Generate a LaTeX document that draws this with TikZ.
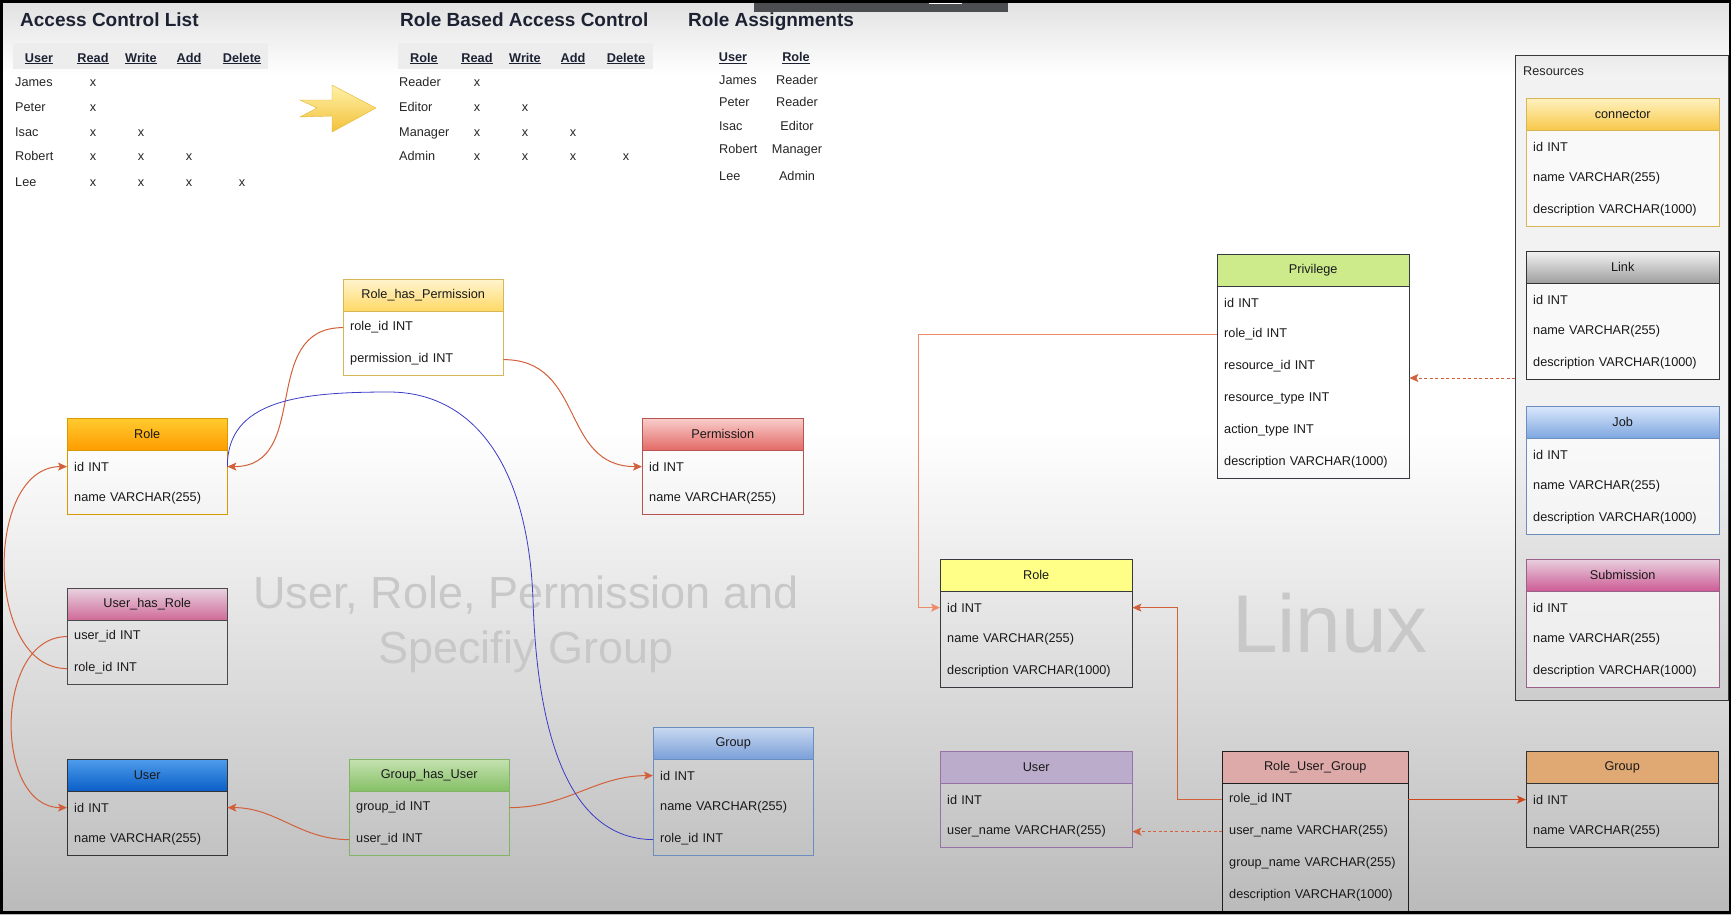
\documentclass[tikz,border=0pt]{standalone}
\usepackage{fontspec}
\setmainfont{Liberation Sans}
\usetikzlibrary{arrows.meta,positioning,calc}

\definecolor{fkline}{HTML}{D2603A}
\definecolor{fklight}{HTML}{EE8A6A}
\definecolor{fkdark}{HTML}{CC4A1E}
\definecolor{archline}{HTML}{3B3BC8}
\definecolor{inkdark}{HTML}{1D2233}
\definecolor{markgray}{HTML}{C8C8C8}
\definecolor{resline}{HTML}{3A3A3A}
\definecolor{tabgray}{HTML}{4B4D50}
\definecolor{arrowTop}{HTML}{FFF1A8}
\definecolor{arrowBot}{HTML}{F2C13A}
\definecolor{arrowLine}{HTML}{E5B52E}
\definecolor{rhpTop}{HTML}{FFF4CF}\definecolor{rhpBot}{HTML}{FFD966}\definecolor{rhpLine}{HTML}{D6B656}
\definecolor{lroleTop}{HTML}{FFCB2F}\definecolor{lroleBot}{HTML}{FF9C00}\definecolor{lroleLine}{HTML}{D79B00}
\definecolor{permTop}{HTML}{F8CECC}\definecolor{permBot}{HTML}{E36A66}\definecolor{permLine}{HTML}{B85450}
\definecolor{uhrTop}{HTML}{E8D2E0}\definecolor{uhrBot}{HTML}{CF6A97}\definecolor{uhrLine}{HTML}{4A4A4A}
\definecolor{luserTop}{HTML}{4E9CEB}\definecolor{luserBot}{HTML}{0A5FC8}\definecolor{luserLine}{HTML}{333333}
\definecolor{ghuTop}{HTML}{C4E2B0}\definecolor{ghuBot}{HTML}{86BF66}\definecolor{ghuLine}{HTML}{82B366}
\definecolor{lgroupTop}{HTML}{C9D9F1}\definecolor{lgroupBot}{HTML}{7A9FD8}\definecolor{lgroupLine}{HTML}{6C8EBF}
\definecolor{privFill}{HTML}{CDEB8B}\definecolor{privLine}{HTML}{36393D}
\definecolor{rroleFill}{HTML}{FFFF88}\definecolor{rroleLine}{HTML}{36393D}
\definecolor{ruserFill}{HTML}{BCACCB}\definecolor{ruserLine}{HTML}{9673A6}
\definecolor{rugFill}{HTML}{DEA9A9}\definecolor{rugLine}{HTML}{1F1F1F}
\definecolor{rgroupFill}{HTML}{E0A872}\definecolor{rgroupLine}{HTML}{333333}
\definecolor{connTop}{HTML}{FFF2C0}\definecolor{connBot}{HTML}{F7C84A}\definecolor{connLine}{HTML}{D6B656}
\definecolor{linkTop}{HTML}{F2F2F2}\definecolor{linkBot}{HTML}{9E9E9E}\definecolor{linkLine}{HTML}{333333}
\definecolor{jobTop}{HTML}{DAE8FC}\definecolor{jobBot}{HTML}{7EA6E0}\definecolor{jobLine}{HTML}{6C8EBF}
\definecolor{submTop}{HTML}{E8D0DE}\definecolor{submBot}{HTML}{CD5B95}\definecolor{submLine}{HTML}{996185}

% table: header node #2, rows #2-1, #2-2, ...
\newcommand{\dbtable}[8][]{%
  \node[tabhead,#5,minimum width=#4,anchor=north west] (#2) at #3 {#7};
  \pgfmathsetmacro\rowtw{#4-14}
  \foreach \txt [count=\i] in {#8}{%
    \node[tabrow,#1,text width=\rowtw pt,anchor=north west] (#2-\i)
      at ($(#2.south west)+(0,{(\i-1)*32})$) {\txt};
    \xdef\lastrow{\i}}
  \draw[draw=#6,line width=1] (#2.north west) rectangle (#2-\lastrow.south east);
  \draw[draw=#6,line width=1] (#2.south west) -- (#2.south east);
}

\begin{document}
\begin{tikzpicture}[x=1pt,y=-1pt,
    title/.style={font=\fontsize{19}{22}\selectfont\bfseries,text=inkdark,anchor=base west,inner sep=0},
    colhead/.style={font=\fontsize{12.7}{15}\selectfont\bfseries,text=inkdark,anchor=base,inner sep=0},
    cell/.style={font=\fontsize{12.7}{15}\selectfont,text=black!85,anchor=base,inner sep=0},
    tabhead/.style={font=\fontsize{12.7}{15}\selectfont,text=black!90,minimum height=32,inner sep=0},
    tabrow/.style={font=\fontsize{12.7}{15}\selectfont,text=black!90,minimum height=32,
      inner ysep=0,inner xsep=7,align=left},
    fk/.style={color=fkline,line width=1,-{Stealth[length=9pt,width=8pt,inset=2pt]}},
    watermark/.style={font=\fontsize{45}{50}\selectfont,text=markgray,anchor=base,inner sep=0}]

  \useasboundingbox (0,0) rectangle (1731,914);
  \shade[top color=black!12,bottom color=white] (0,0) rectangle (1731,75);
  \fill[white] (0,75) rectangle (1731,430);
  \shade[top color=white,bottom color=black!27] (0,430) rectangle (1731,914);

  % access control list
  \node[title] (acl-title) at (20,26) {Access Control List};
  \fill[black!7] (13,43) rectangle (268,69);
  \foreach \hd/\hx [count=\i] in {User/39,Read/93,Write/141,Add/189,Delete/242}
    \node[colhead] (acl-h\i) at (\hx,62) {\underline{\hd}};
  \foreach \nm/\ny/\xs [count=\i] in {James/86.5/{93},Peter/111.8/{93},Isac/136.5/{93,141},
      Robert/160.8/{93,141,189},Lee/186.5/{93,141,189,242}}{
    \node[cell,anchor=base west] (acl-\i) at (15,\ny) {\nm};
    \foreach \cx [count=\j] in \xs
      \node[cell] (acl-\i-\j) at (\cx,\ny) {x};
  }

  \draw[arrowLine,top color=arrowTop,bottom color=arrowBot]
    (300,100) -- (332,100) -- (332,85) -- (376,108) -- (332,132) -- (332,116)
    -- (300,117) -- (317,108) -- cycle;

  % role based access control
  \node[title] (rbac-title) at (400,26) {Role Based Access Control};
  \fill[black!7] (398,43) rectangle (653,69);
  \foreach \hd/\hx [count=\i] in {Role/424,Read/477,Write/525,Add/573,Delete/626}
    \node[colhead] (rbac-h\i) at (\hx,62) {\underline{\hd}};
  \foreach \nm/\ny/\xs [count=\i] in {Reader/86.5/{477},Editor/111.8/{477,525},
      Manager/136.5/{477,525,573},Admin/160.8/{477,525,573,626}}{
    \node[cell,anchor=base west] (rbac-\i) at (399,\ny) {\nm};
    \foreach \cx [count=\j] in \xs
      \node[cell] (rbac-\i-\j) at (\cx,\ny) {x};
  }

  % role assignments
  \node[title] (ra-title) at (688,26) {Role Assignments};
  \node[colhead] (ra-h1) at (733,61.5) {\underline{User}};
  \node[colhead] (ra-h2) at (796,61.5) {\underline{Role}};
  \foreach \nm/\rl/\ny [count=\i] in {James/Reader/84.5,Peter/Reader/106.5,Isac/Editor/130.2,
      Robert/Manager/153.5,Lee/Admin/180.5}{
    \node[cell,anchor=base west] (ra-\i) at (719,\ny) {\nm};
    \node[cell] (ra-\i-r) at (797,\ny) {\rl};
  }

  % left schema
  \node[watermark] (wm-1) at (526,608) {User, Role, Permission and};
  \node[watermark] (wm-2) at (526,663) {Specifiy Group};

  \dbtable{rhp}{(343,279)}{160}{top color=rhpTop,bottom color=rhpBot}{rhpLine}
    {Role\_has\_Permission}{role\_id INT,permission\_id INT}
  \dbtable{lrole}{(67,418)}{160}{top color=lroleTop,bottom color=lroleBot}{lroleLine}
    {Role}{id INT,name VARCHAR(255)}
  \dbtable{perm}{(642,418)}{161}{top color=permTop,bottom color=permBot}{permLine}
    {Permission}{id INT,name VARCHAR(255)}
  \dbtable{uhr}{(67,588)}{160}{top color=uhrTop,bottom color=uhrBot}{uhrLine}
    {User\_has\_Role}{user\_id INT,role\_id INT}
  \dbtable{luser}{(67,759)}{160}{top color=luserTop,bottom color=luserBot}{luserLine}
    {User}{id INT,name VARCHAR(255)}
  \dbtable{ghu}{(349,759)}{160}{top color=ghuTop,bottom color=ghuBot}{ghuLine}
    {Group\_has\_User}{group\_id INT,user\_id INT}
  \dbtable{lgroup}{(653,727)}{160}{top color=lgroupTop,bottom color=lgroupBot}{lgroupLine}
    {Group}{id INT,name VARCHAR(255),role\_id INT}

  \draw[fk] (rhp-1.west) to[out=180,in=0,looseness=1.2] (lrole-1.east);
  \draw[fk] (rhp-2.east) to[out=0,in=180,looseness=1.2] (perm-1.west);
  \draw[fk] (uhr-2.west) to[out=180,in=180,looseness=1.05] (lrole-1.west);
  \draw[fk] (uhr-1.west) to[out=180,in=180,looseness=1.1] (luser-1.west);
  \draw[fk] (ghu-2.west) to[out=180,in=0] (luser-1.east);
  \draw[fk] (ghu-1.east) to[out=0,in=180] (lgroup-1.west);
  \draw[archline,line width=0.8] (lgroup-3.west) .. controls (580,839) and (538,760) .. (533,600)
    .. controls (528,460) and (470,392) .. (389,392)
    .. controls (300,392) and (227,400) .. (lrole-1.east);

  % right schema
  \node[watermark,font=\fontsize{82}{90}\selectfont] (wm-linux) at (1330,652) {Linux};

  \node[draw=resline,line width=1,fill=black,fill opacity=0.05,minimum width=213,
    minimum height=645,anchor=north west,inner sep=0] (res) at (1515,55) {};
  \node[cell,anchor=base west] (res-label) at (1523,75.5) {Resources};
  \dbtable[fill=white,fill opacity=0.6,text opacity=1]{conn}{(1526,98)}{193}
    {top color=connTop,bottom color=connBot}{connLine}
    {connector}{id INT,name VARCHAR(255),description VARCHAR(1000)}
  \dbtable[fill=white,fill opacity=0.6,text opacity=1]{link}{(1526,251)}{193}
    {top color=linkTop,bottom color=linkBot}{linkLine}
    {Link}{id INT,name VARCHAR(255),description VARCHAR(1000)}
  \dbtable[fill=white,fill opacity=0.6,text opacity=1]{job}{(1526,406)}{193}
    {top color=jobTop,bottom color=jobBot}{jobLine}
    {Job}{id INT,name VARCHAR(255),description VARCHAR(1000)}
  \dbtable[fill=white,fill opacity=0.6,text opacity=1]{subm}{(1526,559)}{193}
    {top color=submTop,bottom color=submBot}{submLine}
    {Submission}{id INT,name VARCHAR(255),description VARCHAR(1000)}

  \dbtable{priv}{(1217,254)}{192}{fill=privFill}{privLine}
    {Privilege}{id INT,role\_id INT,resource\_id INT,resource\_type INT,action\_type INT,
    description VARCHAR(1000)}
  \dbtable{rrole}{(940,559)}{192}{fill=rroleFill}{rroleLine}
    {Role}{id INT,name VARCHAR(255),description VARCHAR(1000)}
  \dbtable{ruser}{(940,751)}{192}{fill=ruserFill}{ruserLine}
    {User}{id INT,user\_name VARCHAR(255)}
  \dbtable{rug}{(1222,751)}{186}{fill=rugFill}{rugLine}
    {Role\_User\_Group}{role\_id INT,user\_name VARCHAR(255),group\_name VARCHAR(255),
    description VARCHAR(1000)}
  \dbtable{rgroup}{(1526,751)}{192}{fill=rgroupFill}{rgroupLine}
    {Group}{id INT,name VARCHAR(255)}

  \draw[fk,color=fklight] (priv-2.west) -- ++(-299,0) |- (rrole-1.west);
  \draw[fk] (rug-1.west) -- ++(-45,0) |- (rrole-1.east);
  \draw[fk,color=fkdark,line width=1.6] (rug-1.east) -- (rgroup-1.west);
  \draw[fk,dash pattern=on 3pt off 2.5pt] (rug-2.west) -- (ruser-2.east);
  \draw[fk,dash pattern=on 3pt off 2.5pt] (res.west) -- (res.west -| priv-1.east);

  % screen frame
  \fill[tabgray] (754,0) rectangle (1008,12);
  \draw[white,line width=1] (929,0) rectangle (961,3);
  \fill[black] (0,0) rectangle (1731,3);
  \fill[black] (0,0) rectangle (3,914);
  \fill[black] (1729,0) rectangle (1731,914);
  \fill[black] (0,911) rectangle (1731,914);
\end{tikzpicture}
\end{document}
